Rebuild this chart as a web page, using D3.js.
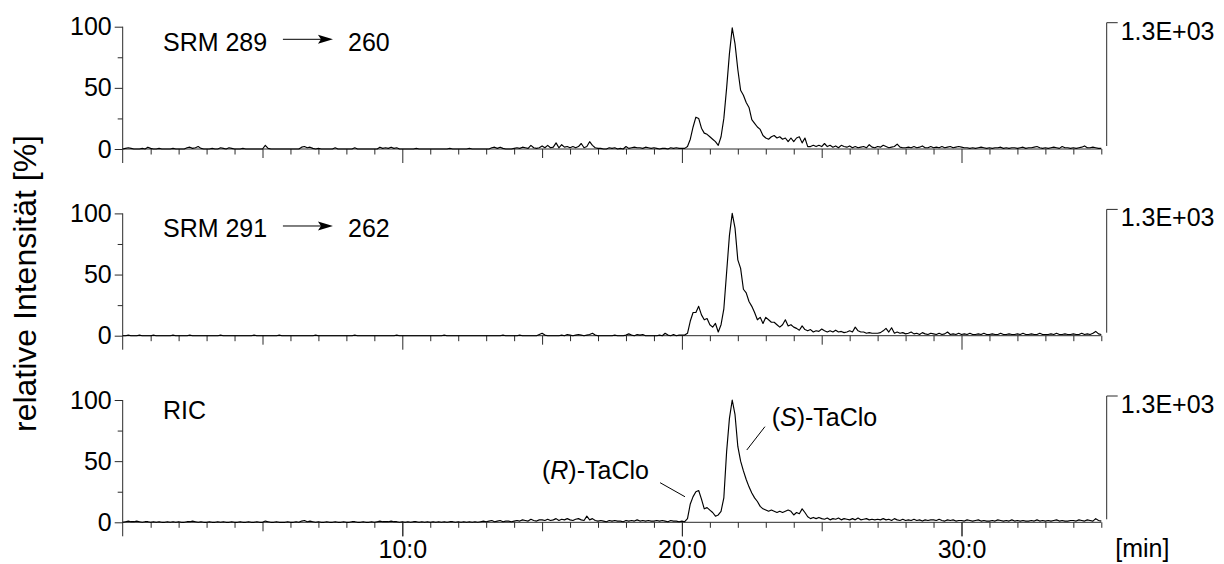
<!DOCTYPE html>
<html>
<head>
<meta charset="utf-8">
<script src="https://cdn.jsdelivr.net/npm/d3@7"></script>
<style>
  html, body { margin: 0; padding: 0; background: #fff; }
  svg { display: block; font-family: "Liberation Sans", Arial, Helvetica, sans-serif; }
</style>
</head>
<body>
<svg id="chart" width="1224" height="564"></svg>
<script>
// Scan interval of the traces (minutes); value j belongs to retention time j * STEP
const STEP = 0.1;

// Relative intensity [%], one value per 0.1 min from 0.0 to 35.0 min
const srm289 = [
  0,0.5,1,0.5,0,0,0,0.5,0,1.5,
  0.5,0,0,0.5,0,0,0,0,0.5,0,
  0,0,0,1,1.5,0.5,1,2,0.5,0,
  0,0,0.5,0,0,1,0.5,0,1,0.5,
  0,0,0,0.5,0,0,0,0,0,0,
  0,3,0.5,0,0,0,0,0,0,0,
  0,0,0,0,1.5,2,1,1.5,0.5,0,
  0.5,0,0,0,0,0,1,0,0,0,
  0,0,0,1,0,0,0,0,0,0,
  0,0,1.5,0.5,1,0.5,1.5,0.5,1,0,
  0,0,0,0,0,0.5,0,0,0,0,
  0,0,0,0,0,0,0,0.5,0,0,
  0,0,0,0,0.5,0,0,0,0,0,
  0,0,1,1.5,0.5,1.5,0.5,0,0,0,
  0.5,1,0.5,1.5,1,0.5,3,1,0.5,1,
  2.5,1,3,1,1.5,5,1,3.5,1.5,2,
  1,2,1,2,4.5,1,2,6,3,1,
  0.5,0.5,0,0,1,0.5,1,0,0.5,0,
  2,0.5,1,1.5,1,1,0.5,1.5,1,0.5,
  1,0.5,0,0.5,0.5,0,1,0.5,1,0.5,
  0.5,0.5,2,8,18,26,25,17,13,12,
  10,8,6,3,10,25,50,78,99,86,
  65,48,44,38,34,24,21,18,16,11,
  9,8,10,11,9,10,8,9,6,9,
  6,9,10,5,9,2,2,3,2,3,
  2,4.5,2,3,1.5,2.5,1,3,2,1.5,
  2.5,1,2,1,1.5,2,1,3.5,1.5,1,
  2,1.5,3,2,1,1.5,2,4,1.5,1,
  1,1.5,1,2,1,1.5,2.5,1,1,2,
  1,1.5,1,2,1,1.5,2,1,1.5,2,
  1.5,1,1,0.5,1,0.5,1,1.5,1,0.5,
  1,0.5,1,1,1.5,0.5,1,0.5,1,1,
  0.5,1,1.5,0.5,1,1,1.5,2,1,0.5,
  1,0.5,1,1.5,1,0.5,2,1,1,0.5,
  1,0.5,1,1.5,2.5,1,1,1.5,1,0.5,
  0.5
];

const srm291 = [
  0,0,0.5,0,0,0,0.5,0,0,0,
  0,0.5,0,0,0,0,0,0,0.5,0,
  0,0,0,0,0.5,0,0,0,0,0,
  0,0,0,0,0,0.5,0,0,0,0,
  0,0,0,0,0,0,0,0.5,0,0,
  0,0,0,0,0,0,0.5,0,0,0,
  0,0,0,0,0,0,0,0,0,0.5,
  0,0,0,0,0,0,0,0,0,0,
  0,0,0,0.5,0,0,0,0,0,0,
  0,0,0,0,0,0,0,0,0.5,0,
  0,0,0,0,0,0,0,0,0,0,
  0,0,0,0,0,0.5,0,0,0,0,
  0,0,0,0,0,0,0,0,0,0,
  0,0,0,0,0,0,0.5,0,0,0,
  0,0,0.5,0,0,0,0,0,0,1,
  2,0.5,0,0,0,0,0,0.5,0,1,
  0.5,0,0.5,1,0.5,0,0.5,1,2,0.5,
  0,0,0,0,0,0,0.5,0,0,0,
  0.5,1.5,0.5,0,1,0.5,1,0,0,0,
  0,0,0.5,0,2,0.5,0,1,0,0.5,
  0.5,0.5,2,12,19,19,24,17,13,14,
  9,7,10,3,9,22,52,82,100,88,
  62,55,38,35,28,24,19,13,15,10,
  15,13,11,11,9,7,9,13,8,9,
  7,6,4.5,8,5,4,5,3,4,3.5,
  5.5,4,3,4,3,4.5,3,3.5,2.5,3,
  4,3,7,4,3,3,2,2.5,2,2,
  2,2.5,4,6,3,6.5,2,3,2,2.5,
  1.5,2,3,1.5,2,1,2.5,1.5,1,2,
  1.5,1,2,1,1.5,3,1,1.5,1,2,
  1,1.5,1,2,1,1,1.5,1,2,1,
  1,1.5,1,1,2,1,1,1.5,1,1,
  1.5,1,2,1,1,1.5,1,1,2,1,
  1,1,1.5,1,2,1,1,1.5,1,1,
  1.5,1,1,2,1,1.5,1,2,3.5,1.5,
  1
];

const ric = [
  0,0.5,1,0.5,0.5,1,0.5,0,0.5,0.5,
  0,0.5,0,0.5,0,0,0.5,0,0.5,0,
  0.5,0,0,0.5,0.5,1,0.5,0,0.5,0,
  0,0.5,0,0,0.5,0,0.5,0,0,0.5,
  0,0,0.5,0,0,0.5,0,0,0.5,0,
  0,1,0.5,0,0,0.5,0,0,0,0.5,
  0,0,0.5,0,1,1.5,0.5,1,0.5,0,
  0.5,0,0,0.5,0,0,0.5,0,0,0.5,
  0,0,0.5,0.5,0,0,0.5,0,0,0.5,
  0,0.5,1,0.5,0.5,0.5,1,0.5,0.5,0,
  0.5,0,0.5,0,0.5,0.5,0,0.5,0,0.5,
  0,0.5,0,0.5,0,0.5,0,0.5,0.5,0,
  0.5,0,0.5,0,0.5,0,0.5,0,0.5,1,
  0.5,1,1.5,0.5,1,1.5,0.5,1,1,0.5,
  1,1.5,1,2,1.5,1,2.5,1.5,1,2,
  2,1.5,2.5,1.5,2,3,1.5,2.5,2,3,
  2,1.5,2.5,3,2,1.5,5,2,3,1.5,
  1,1.5,1,0.5,1.5,1,1.5,1,1,0.5,
  1.5,1,1.5,1,2,1,1.5,1,1.5,1,
  1,1.5,1,1.5,1,0.5,1.5,1,1,0.5,
  1,0.5,3,15,21,25,26,19,11,12,
  10,8,5,6,9,20,58,85,100,88,
  62,50,42,35,29,24,20,17,13,11,
  10,9,10,9,8,9,8,9,10,9,
  6,8,7,11,8,4.5,3,4,3,4,
  3,2.5,3.5,2,3,2.5,3.5,2,3,2.5,
  2,3,2,3.5,2,2.5,3,2,2.5,2,
  2.5,2,3,2,2.5,1.5,3,2,1.5,2.5,
  1.5,2,1.5,2.5,1.5,2,1,2,1.5,2,
  2,1.5,2.5,1.5,1,2,1.5,2,1,1.5,
  1.5,1,2,1.5,1,1.5,2,1,1.5,1,
  1,1.5,1,2,1.5,1,1.5,1,2,1,
  1.5,1,1.5,1,1,1.5,1,2,1,1.5,
  1,1.5,1,1.5,2,1,1.5,1,1,1.5,
  1.5,1,2,1.5,1,2,1.5,1,3,1.5,
  1
];

// Trace titles, precursor -> product transitions and absolute scale maxima
const traceNames   = ["SRM 289", "SRM 291", "RIC"];
const productIons  = ["260", "262", null];
const maxIntensity = ["1.3E+03", "1.3E+03", "1.3E+03"];

// Axis ticks
const yMajorTicks = [0, 50, 100];
const yMinorTicks = [25, 75];
const xMajorTicks = [10, 20, 30];
const xMajorLabels = ["10:0", "20:0", "30:0"];
const xMidTicks = [5, 15, 25];
const xMinorTicks = d3.range(1, 36).filter(m => m % 5 !== 0 || m === 35);

// Peak labels in the RIC trace: [time, rel. intensity] of label anchor and leader ends
const peakLabels      = ["R", "S"];
const peakLabelPos    = [[18.82, 35.4], [23.21, 78.7]];
const peakLeaderStart = [[19.22, 32.4], [22.97, 78.2]];
const peakLeaderEnd   = [[20.11, 20.9], [22.32, 59.1]];

const traces = [srm289, srm291, ric];

// ---- layout -------------------------------------------------------------
const svg = d3.select("#chart");
const AXIS = "#2a2a2a";
const FONT = 25;

const x = d3.scaleLinear().domain([0, 35]).range([122.7, 1101.3]);
const panelTop = [26.7, 213.4, 400.0];
const panelH = 122.3;

const line = d3.line()
  .x((d, j) => x(j * STEP))
  .y(d => d);

traces.forEach((values, i) => {
  const y = d3.scaleLinear().domain([0, 100]).range([panelTop[i] + panelH, panelTop[i]]);
  const g = svg.append("g").attr("class", "panel");
  const isLast = i === traces.length - 1;

  // left intensity axis
  const yAx = g.append("g").attr("transform", `translate(${x(0)},0)`)
    .call(d3.axisLeft(y).tickValues(yMajorTicks).tickSize(8).tickSizeOuter(0)
      .tickPadding(3).tickFormat(d3.format("d")));
  yAx.select(".domain").remove();
  yAx.selectAll("text").attr("font-size", FONT).attr("fill", "#000")
    .attr("font-family", "Liberation Sans, Arial, sans-serif");
  const yMin = g.append("g").attr("transform", `translate(${x(0)},0)`)
    .call(d3.axisLeft(y).tickValues(yMinorTicks).tickSize(5).tickFormat(""));
  yMin.select(".domain").remove();
  g.append("line")
    .attr("x1", x(0)).attr("x2", x(0))
    .attr("y1", y(100)).attr("y2", y(0) + 14);

  // time axis baseline and ticks
  g.append("line")
    .attr("x1", x(0)).attr("x2", x(35))
    .attr("y1", y(0)).attr("y2", y(0));
  [[xMinorTicks, 5.5], [xMidTicks, 9], [xMajorTicks, 14]].forEach(([vals, size]) => {
    const ax = g.append("g").attr("transform", `translate(0,${y(0)})`)
      .call(d3.axisBottom(x).tickValues(vals).tickSize(size).tickSizeOuter(0).tickFormat(""));
    ax.select(".domain").remove();
  });
  if (isLast) {
    const lab = g.append("g").attr("transform", `translate(0,${y(0)})`)
      .call(d3.axisBottom(x).tickValues(xMajorTicks).tickSize(14).tickPadding(4)
        .tickFormat((d, k) => xMajorLabels[k]));
    lab.select(".domain").remove();
    lab.selectAll("text").attr("font-size", FONT).attr("fill", "#000")
      .attr("font-family", "Liberation Sans, Arial, sans-serif");
    g.append("text")
      .attr("x", x(35) + 14).attr("y", y(0) + 35)
      .attr("font-size", FONT).text("[min]");
  }

  g.selectAll("line").attr("stroke", AXIS).attr("stroke-width", 1);
  g.selectAll(".tick line").attr("stroke", AXIS).attr("stroke-width", 1);

  // right-hand absolute scale marker
  const rx = x(35) + 5.4;
  const rTop = y(100) - 4;
  g.append("path")
    .attr("d", `M${rx + 11},${rTop} H${rx} V${y(0) - 3}`)
    .attr("fill", "none").attr("stroke", AXIS).attr("stroke-width", 1);
  g.append("text")
    .attr("x", rx + 14).attr("y", rTop + 17)
    .attr("font-size", FONT).text(maxIntensity[i]);

  // trace
  g.append("path")
    .datum(values.map(v => y(v)))
    .attr("d", line)
    .attr("fill", "none")
    .attr("stroke", "#000")
    .attr("stroke-width", 1.15)
    .attr("stroke-linejoin", "round");

  // trace title
  const nameV = productIons[i] ? 80.4 : 84.2;
  g.append("text")
    .attr("x", x(1.44)).attr("y", y(nameV))
    .attr("font-size", FONT).text(traceNames[i]);
  if (productIons[i]) {
    const ay = y(89.7), ax0 = x(5.73), ax1 = x(7.52);
    g.append("line")
      .attr("x1", ax0).attr("x2", ax1 - 10).attr("y1", ay).attr("y2", ay)
      .attr("stroke", "#000").attr("stroke-width", 1);
    g.append("path")
      .attr("d", `M${ax1},${ay} L${ax1 - 15},${ay - 4.5} L${ax1 - 12},${ay} L${ax1 - 15},${ay + 4.5} Z`)
      .attr("fill", "#000");
    g.append("text")
      .attr("x", x(8.06)).attr("y", y(nameV))
      .attr("font-size", FONT).text(productIons[i]);
  }

  // enantiomer labels in the reconstructed ion chromatogram
  if (isLast) {
    peakLabels.forEach((lbl, k) => {
      const t = g.append("text")
        .attr("x", x(peakLabelPos[k][0])).attr("y", y(peakLabelPos[k][1]))
        .attr("font-size", FONT)
        .attr("text-anchor", k === 0 ? "end" : "start");
      t.append("tspan").text("(");
      t.append("tspan").attr("font-style", "italic").text(lbl);
      t.append("tspan").text(")-TaClo");
      g.append("line")
        .attr("x1", x(peakLeaderStart[k][0])).attr("y1", y(peakLeaderStart[k][1]))
        .attr("x2", x(peakLeaderEnd[k][0])).attr("y2", y(peakLeaderEnd[k][1]))
        .attr("stroke", "#000").attr("stroke-width", 1);
    });
  }
});

// common intensity title
svg.append("text")
  .attr("transform", "translate(36,283.5) rotate(-90)")
  .attr("text-anchor", "middle")
  .attr("font-size", 32)
  .text("relative Intensität [%]");
</script>
</body>
</html>
